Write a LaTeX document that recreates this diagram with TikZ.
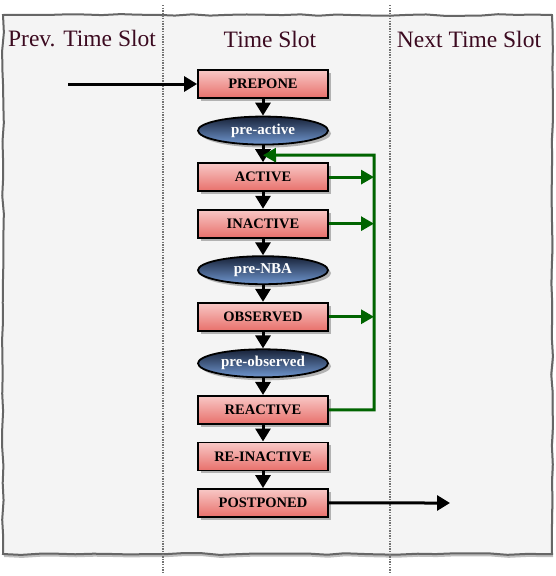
\documentclass[tikz,border=0pt]{standalone}
\usepackage{fontspec}
\setmainfont{Liberation Serif}
\usetikzlibrary{shapes, arrows.meta, shadows, calc, decorations.pathmorphing}
\definecolor{slotbg}{HTML}{F4F4F4}
\definecolor{slotline}{HTML}{666666}
\definecolor{titlecol}{HTML}{3C0A20}
\definecolor{boxtop}{HTML}{F8C8C6}
\definecolor{boxbot}{HTML}{E8706B}
\definecolor{ovaltop}{HTML}{182238}
\definecolor{ovalbot}{HTML}{7097D0}
\definecolor{greenline}{HTML}{006400}
\tikzstyle{slotframe} = [draw=slotline, line width=2pt, fill=slotbg, decorate, decoration={random steps, segment length=18pt, amplitude=0.9pt}, drop shadow={shadow xshift=1pt, shadow yshift=-3pt, fill=black!25, opacity=1}]
\tikzstyle{divider} = [draw=black!55, line width=1.3pt, dash pattern=on 1.3pt off 1.3pt]
\tikzstyle{slottitle} = [text=titlecol, font=\fontsize{23.5}{28}\selectfont]
\tikzstyle{region} = [rectangle, minimum width=130pt, minimum height=28pt, text centered, draw=black, line width=1.8pt, top color=boxtop, bottom color=boxbot, drop shadow={shadow xshift=3pt, shadow yshift=-3pt, fill=black!30, opacity=1}, font=\fontsize{14.5}{16}\selectfont\bfseries]
\tikzstyle{prestate} = [ellipse, inner sep=1pt, minimum width=130pt, minimum height=28pt, text centered, draw=black, line width=1.8pt, top color=ovaltop, bottom color=ovalbot, text=white, drop shadow={shadow xshift=3pt, shadow yshift=-3pt, fill=black!30, opacity=1}, font=\fontsize{15}{16}\selectfont\bfseries]
\tikzstyle{edge} = [line width=3pt, -{Triangle[length=13pt, width=15pt]}]
\tikzstyle{feedback} = [line width=3pt, greenline, -{Triangle[length=13pt, width=14pt]}]

\begin{document}
\begin{tikzpicture}[x=1pt, y=-1pt, node distance=46.55pt]
\useasboundingbox (0,0) rectangle (555,576);

% background of the slots
\path [slotframe] (3,15) rectangle (552,554);
\draw [divider] (163,5) -- (163,573);
\draw [divider] (390,5) -- (390,573);

\node (prevtitle) [slottitle] at (82,39) {Prev. Time Slot};
\node (curtitle) [slottitle] at (270,39) {Time Slot};
\node (nexttitle) [slottitle] at (469,39) {Next Time Slot};

% regions of one slot
\node (prepone) [region] at (263,84) {PREPONE};
\node (preactive) [prestate, below of=prepone] {pre-active};
\node (active) [region, below of=preactive] {ACTIVE};
\node (inactive) [region, below of=active] {INACTIVE};
\node (prenba) [prestate, below of=inactive] {pre-NBA};
\node (observed) [region, below of=prenba] {OBSERVED};
\node (preobserved) [prestate, below of=observed] {pre-observed};
\node (reactive) [region, below of=preobserved] {REACTIVE};
\node (reinactive) [region, below of=reactive] {RE-INACTIVE};
\node (postponed) [region, below of=reinactive] {POSTPONED};

\coordinate (entry) at (68,84);
\coordinate (exit) at (450,503);
\coordinate (rail) at (374,155);
\coordinate (loopin) at ($(active.north)+(0pt,7pt)$);

\draw [edge] (entry) -- (prepone);
\draw [edge] (prepone) -- (preactive);
\draw [edge] (preactive) -- (active);
\draw [edge] (active) -- (inactive);
\draw [edge] (inactive) -- (prenba);
\draw [edge] (prenba) -- (observed);
\draw [edge] (observed) -- (preobserved);
\draw [edge] (preobserved) -- (reactive);
\draw [edge] (reactive) -- (reinactive);
\draw [edge] (reinactive) -- (postponed);
\draw [edge] (postponed) -- (exit);

\draw [feedback] (reactive.east) -| (rail) -- (loopin);
\draw [feedback] (active.east) -- (active.east -| rail);
\draw [feedback] (inactive.east) -- (inactive.east -| rail);
\draw [feedback] (observed.east) -- (observed.east -| rail);

\end{tikzpicture}
\end{document}
